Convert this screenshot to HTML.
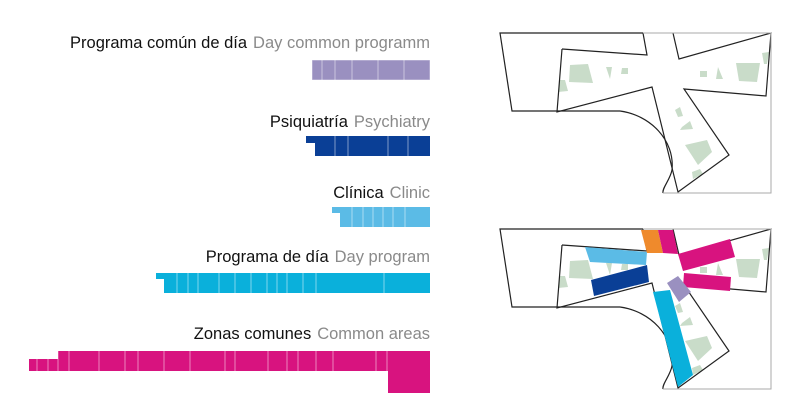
<!DOCTYPE html>
<html><head><meta charset="utf-8"><style>
body{margin:0;background:#fff;width:812px;height:412px;overflow:hidden;position:relative;font-family:"Liberation Sans",sans-serif}
.l{position:absolute;right:382px;font-size:16.5px;color:#111;white-space:nowrap;line-height:18px}
.l span{color:#8a8a8a;margin-left:6px}
svg{position:absolute;left:0;top:0}
</style></head><body>
<div class="l" style="top:34px">Programa común de día<span>Day common programm</span></div>
<div class="l" style="top:113px">Psiquiatría<span>Psychiatry</span></div>
<div class="l" style="top:184px">Clínica<span>Clinic</span></div>
<div class="l" style="top:248px">Programa de día<span>Day program</span></div>
<div class="l" style="top:325px">Zonas comunes<span>Common areas</span></div>
<svg width="812" height="412" viewBox="0 0 812 412">
<defs>
<g id="map">
<g fill="#c9dcc9">
<polygon points="570,65 588,64 593,83 569,82"/>
<polygon points="606,67 612,67 610,79"/>
<polygon points="622,68 628,68 628,74 621,74"/>
<polygon points="560,80 565,80 568,91 558,92"/>
<polygon points="700,71 707,71 707,77 700,77"/>
<polygon points="718,67 723,79 716,79"/>
<polygon points="736,63 760,63 757,82 739,81"/>
<polygon points="762,53 769,52 767,64 764,64"/>
<polygon points="675,110 680,107 683,116 678,117"/>
<polygon points="682,127 690,121 693,129 680,130"/>
<polygon points="685,145 707,140 712,152 698,165"/>
<polygon points="692,172 700,169 703,174 693,179"/>
</g>
<g fill="none" stroke="#222" stroke-width="1.2">
<polyline points="643,33 500,33 512,111 620,111"/>
<path d="M620,111 C650,115 675,140 672,170 C670,180 662,188 663,193"/>
<polyline points="562,49 557,112 652,87 678,192 729,155 684,89 766,96 771,33 679,59 673,33"/>
<polyline points="562,49 647,55 643,33"/>
</g>
<g fill="none" stroke="#aaa" stroke-width="1">
<polyline points="643,33 771,33 771,193 663,193"/>
</g>
</g>
</defs>
<use href="#map"/>
<use href="#map" transform="translate(0,196)"/>
<polygon fill="#5bbbe6" points="585,247 647,252 646,265 590,262"/>
<polygon fill="#0a3f96" points="591,280 647,265 649,282 594,296"/>
<polygon fill="#ef8a2c" points="641,230 658,230 663,253 647,253"/>
<polygon fill="#d8137f" points="658,230 673,230 678,254 663,253"/>
<polygon fill="#d8137f" points="678,254 730,239 735,257 683,271"/>
<polygon fill="#d8137f" points="684,273 731,277 730,291 683,287"/>
<polygon fill="#9a90c0" points="667,283 678,276 691,292 679,302"/>
<polygon fill="#0ab0db" points="653,292 670,290 693,375 678,387"/>
<g stroke="#fff" stroke-width="0.8" stroke-opacity="0.6">
<rect x="312" y="60" width="118" height="20" fill="#9a90c0"/>
<path d="M322,60V80M335,60V80M352,60V80M378,60V80M404,60V80"/>
<rect x="306" y="136" width="10" height="7" fill="#0a3f96" stroke="none"/>
<rect x="315" y="136" width="115" height="20" fill="#0a3f96" stroke="none"/>
<path d="M335,136V156M348,136V156M388,136V156M408,136V156"/>
<rect x="332" y="207" width="9" height="6" fill="#5bbbe6" stroke="none"/>
<rect x="340" y="207" width="90" height="20" fill="#5bbbe6" stroke="none"/>
<path d="M352,207V227M363,207V227M373,207V227M383,207V227M393,207V227M405,207V227"/>
<rect x="156" y="273" width="9" height="6" fill="#0ab0db" stroke="none"/>
<rect x="164" y="273" width="266" height="20" fill="#0ab0db" stroke="none"/>
<path d="M177,273V293M188,273V293M198,273V293M219,273V293M235,273V293M251,273V293M267,273V293M277,273V293M287,273V293M303,273V293M316,273V293M384,273V293"/>
<rect x="29" y="359" width="30" height="12" fill="#d8137f" stroke="none"/>
<rect x="58" y="351" width="372" height="20" fill="#d8137f" stroke="none"/>
<rect x="388" y="351" width="42" height="42" fill="#d8137f" stroke="none"/>
<path d="M37,359V371M48,359V371M58,351V371M69,351V371M99,351V371M125,351V371M138,351V371M164,351V371M190,351V371M225,351V371M235,351V371M268,351V371M287,351V371M298,351V371M316,351V371M333,351V371M376,351V371M387,351V371"/>
</g>
</svg>
</body></html>
